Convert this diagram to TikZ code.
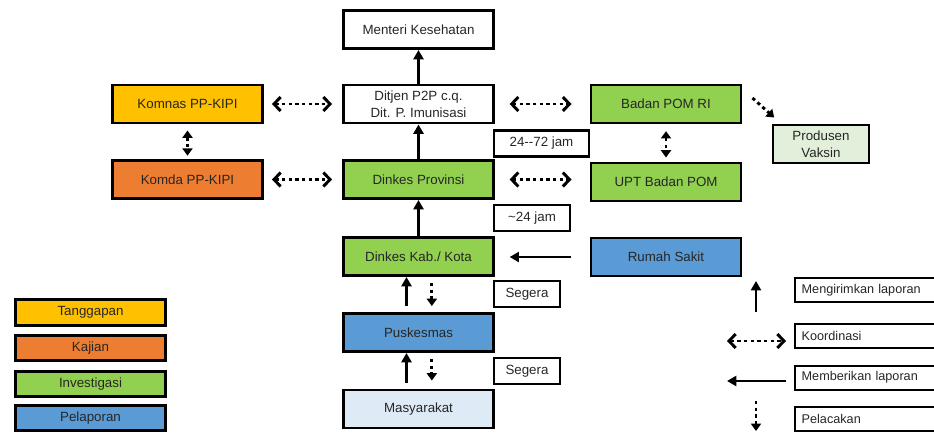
\documentclass[tikz,border=0pt]{standalone}
\usepackage{fontspec}
\setmainfont{Liberation Sans}
\usepackage{tikz}
\usetikzlibrary{arrows.meta}
\newcommand{\bigw}{112.5pt}
\newcommand{\bigh}{28.5pt}
\newcommand{\thickl}{2.2pt}
\definecolor{kuning}{HTML}{FFC000}
\definecolor{oranye}{HTML}{ED7D31}
\definecolor{hijau}{HTML}{92D050}
\definecolor{biru}{HTML}{5B9BD5}
\definecolor{birumuda}{HTML}{DEEBF7}
\definecolor{hijaumuda}{HTML}{E2EFDA}
\definecolor{teks}{HTML}{262626}

\begin{document}
\begin{tikzpicture}[x=0.75pt,y=-0.75pt]
  %\draw[help lines] (0,0) grid (934,432);
  \tikzset{
    orgbox/.style = {draw, line width=\thickl, minimum width=\bigw, minimum height=\bigh, inner sep=0pt, align=center, text=teks, font=\fontsize{10}{12.5}\selectfont},
    timebox/.style = {draw, line width=1.6pt, minimum height=19.5pt, inner sep=0pt, text=teks, font=\fontsize{10}{12}\selectfont},
    legbox/.style = {orgbox, minimum height=19pt},
    hintbox/.style = {draw, line width=1.5pt, anchor=west, minimum height=18pt, text width=160pt, align=left, inner xsep=5pt, inner ysep=0pt, text=teks, font=\fontsize{9.5}{11}\selectfont},
    lapor/.style = {line width=\thickl, -{Triangle[length=7pt,width=7.5pt]}},
    koord/.style = {line width=\thickl, dash pattern=on 2.5pt off 2.5pt, {Straight Barb[length=5pt,width=10.5pt]}-{Straight Barb[length=5pt,width=10.5pt]}},
    koordv/.style = {line width=\thickl, dash pattern=on 2.5pt off 2.5pt, {Triangle[length=5.5pt,width=7.5pt]}-{Triangle[length=5.5pt,width=7.5pt]}},
    lacak/.style = {line width=\thickl, dash pattern=on 2.5pt off 2.5pt, -{Triangle[length=5.5pt,width=7.5pt]}}
  }
  \clip (0,0) rectangle (934,432);

  % alur tengah
  \node[orgbox, fill=white] (menteri) at (418.5,29.5) {Menteri Kesehatan};
  \node[orgbox, fill=white] (ditjen) at (418.5,104) {Ditjen P2P c.q.\\Dit. P. Imunisasi};
  \node[orgbox, fill=hijau] (dinkesprov) at (418.5,179.5) {Dinkes Provinsi};
  \node[orgbox, fill=hijau] (dinkeskab) at (418.5,256.5) {Dinkes Kab./ Kota};
  \node[orgbox, fill=biru] (puskesmas) at (418.5,332.5) {Puskesmas};
  \node[orgbox, fill=birumuda] (masyarakat) at (418.5,409) {Masyarakat};

  % kiri dan kanan
  \node[orgbox, fill=kuning] (komnas) at (187.5,104) {Komnas PP-KIPI};
  \node[orgbox, fill=oranye] (komda) at (187.5,179.5) {Komda PP-KIPI};
  \node[orgbox, fill=hijau] (badanpom) at (666,104) {Badan POM RI};
  \node[orgbox, fill=hijau] (uptpom) at (666,182) {UPT Badan POM};
  \node[orgbox, fill=biru] (rumahsakit) at (666,257) {Rumah Sakit};
  \node[orgbox, fill=hijaumuda, minimum width=72pt] (produsen) at (821,144) {Produsen\\Vaksin};

  % waktu
  \node[timebox, minimum width=71pt] (jam72) at (541.5,143.5) {24-{}-72 jam};
  \node[timebox, minimum width=57pt] (jam24) at (532,218) {\textasciitilde24 jam};
  \node[timebox, minimum width=49.5pt] (segera1) at (527,294) {Segera};
  \node[timebox, minimum width=49.5pt] (segera2) at (527,371) {Segera};

  % keterangan warna
  \node[legbox, fill=kuning] (tanggapan) at (90.5,312.5) {Tanggapan};
  \node[legbox, fill=oranye] (kajian) at (90.5,348) {Kajian};
  \node[legbox, fill=hijau] (investigasi) at (90.5,384) {Investigasi};
  \node[legbox, fill=biru] (pelaporan) at (90.5,418) {Pelaporan};

  % keterangan panah
  \node[hintbox] (kirim) at (794,290) {Mengirimkan laporan};
  \node[hintbox] (koordinasi) at (794,336) {Koordinasi};
  \node[hintbox] (beri) at (794,377.5) {Memberikan laporan};
  \node[hintbox] (pelacakan) at (794,419) {Pelacakan};
  \coordinate (k1a) at (756,312); \coordinate (k1b) at (756,281);
  \coordinate (k2a) at (727,341); \coordinate (k2b) at (786,341);
  \coordinate (k3a) at (786,381); \coordinate (k3b) at (727,381);
  \coordinate (k4a) at (756,401); \coordinate (k4b) at (756,431);
  \draw[lapor] (k1a) -- (k1b);
  \draw[koord] (k2a) -- (k2b);
  \draw[lapor] (k3a) -- (k3b);
  \draw[lacak] (k4a) -- (k4b);

  % panah
  \draw[lapor] (ditjen) -- (menteri);
  \draw[lapor] (dinkesprov) -- (ditjen);
  \draw[lapor] (dinkeskab) -- (dinkesprov);
  \draw[lapor, shorten <=4.5pt] ([xshift=-9pt]puskesmas.north) -- ([xshift=-9pt]dinkeskab.south);
  \draw[lacak, shorten <=4.5pt, shorten >=4.5pt] ([xshift=10pt]dinkeskab.south) -- ([xshift=10pt]puskesmas.north);
  \draw[lapor, shorten <=4.5pt] ([xshift=-9pt]masyarakat.north) -- ([xshift=-9pt]puskesmas.south);
  \draw[lacak, shorten <=4.5pt, shorten >=6pt] ([xshift=10pt]puskesmas.south) -- ([xshift=10pt]masyarakat.north);
  \draw[lapor, shorten <=14pt, shorten >=11pt] (rumahsakit) -- (rumahsakit -| dinkeskab.east);
  \draw[koord, shorten <=6pt, shorten >=7.5pt] (komnas) -- (ditjen);
  \draw[koord, shorten <=6pt, shorten >=7.5pt] (komda) -- (dinkesprov);
  \draw[koord, shorten <=11pt, shorten >=13.5pt] (ditjen) -- (badanpom);
  \draw[koord, shorten <=11pt, shorten >=13.5pt] (dinkesprov.east) -- (dinkesprov.east -| uptpom.west);
  \draw[koordv, shorten <=4.5pt, shorten >=2.5pt] (komnas) -- (komda);
  \draw[koordv, shorten <=5pt, shorten >=3pt] (badanpom) -- (uptpom);
  \draw[lacak] ([xshift=7.5pt,yshift=4.5pt]badanpom.east) -- ([xshift=2pt,yshift=4.5pt]produsen.north west);
\end{tikzpicture}
\end{document}
